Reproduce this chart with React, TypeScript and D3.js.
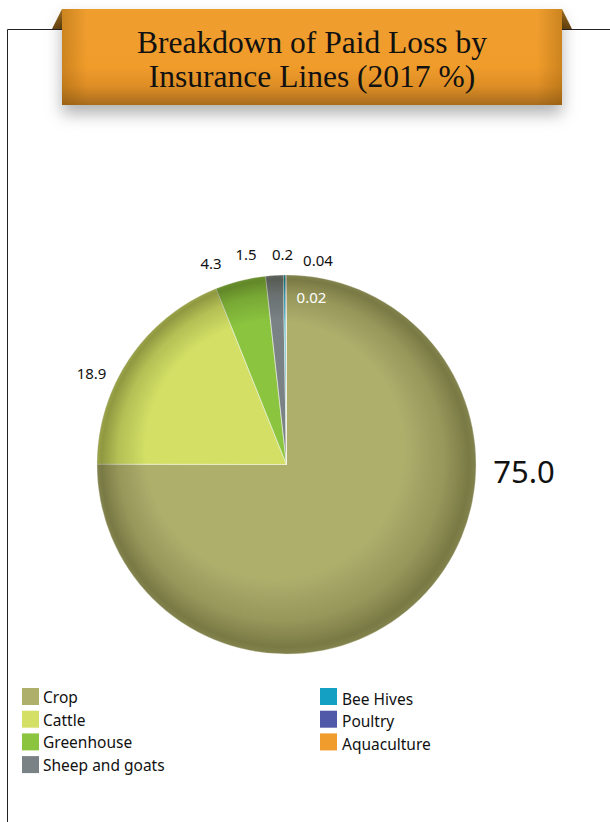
import React from "react";
import * as d3 from "d3";

const categories = ["Crop", "Cattle", "Greenhouse", "Sheep and goats", "Bee Hives", "Poultry", "Aquaculture"];
const values = [75.0, 18.9, 4.3, 1.5, 0.2, 0.04, 0.02];
const labels = ["75.0", "18.9", "4.3", "1.5", "0.2", "0.04", "0.02"];
const colors = ["#AFAF6C", "#D3E065", "#8BC53F", "#7A8285", "#14A0C2", "#5058A8", "#F09C2C"];
const titleLines = ["Breakdown of Paid Loss by", "Insurance Lines (2017 %)"];

// label placement relative to pie centre (layout)
const labelOffsets: [number, number][] = [
  [237.5, 18.5],
  [-195, -85.5],
  [-75.5, -195.5],
  [-40.5, -204.5],
  [-4, -204.5],
  [31.5, -198.5],
  [25, -161.5],
];
const labelSizes = [31, 15, 15, 15, 15, 15, 15];
const labelColors = ["#111", "#111", "#111", "#111", "#111", "#111", "#ffffff"];

const W = 610;
const H = 822;
const cx = 286.5;
const cy = 464.5;
const R = 189.5;

export default function App() {
  const pie = d3
    .pie<number>()
    .sort(null)
    .value((d) => d)
    .startAngle(0)
    .endAngle(2 * Math.PI);
  const arcs = pie(values);
  const arcGen = d3.arc<d3.PieArcDatum<number>>().innerRadius(0).outerRadius(R);

  const legendCol1 = categories.slice(0, 4);
  const legendCol2 = categories.slice(4);
  const rowY = d3.scaleLinear().domain([0, 1]).range([688, 710.7]);

  return (
    <svg
      width={W}
      height={H}
      style={{ position: "absolute", left: 0, top: 0, display: "block", background: "#fff" }}
    >
      <defs>
        <radialGradient id="rim" cx="0.5" cy="0.5" r="0.5" fx="0.4" fy="0.38">
          <stop offset="0" stopColor="#000" stopOpacity="0" />
          <stop offset="0.68" stopColor="#000" stopOpacity="0" />
          <stop offset="0.86" stopColor="#1a1a00" stopOpacity="0.16" />
          <stop offset="0.97" stopColor="#1a1a00" stopOpacity="0.36" />
          <stop offset="1" stopColor="#1a1a00" stopOpacity="0.3" />
        </radialGradient>
        <linearGradient id="bannerV" x1="0" y1="0" x2="0" y2="1">
          <stop offset="0" stopColor="#EF9E2E" />
          <stop offset="0.6" stopColor="#F09C2C" />
          <stop offset="0.8" stopColor="#DE8E26" />
          <stop offset="1" stopColor="#A86C1E" />
        </linearGradient>
        <linearGradient id="bannerH" x1="0" y1="0" x2="1" y2="0">
          <stop offset="0" stopColor="#7a4a00" stopOpacity="0.3" />
          <stop offset="0.05" stopColor="#7a4a00" stopOpacity="0" />
          <stop offset="0.95" stopColor="#7a4a00" stopOpacity="0" />
          <stop offset="1" stopColor="#7a4a00" stopOpacity="0.3" />
        </linearGradient>
        <linearGradient id="tab" x1="0" y1="0" x2="0" y2="1">
          <stop offset="0" stopColor="#A0701E" />
          <stop offset="1" stopColor="#6A4410" />
        </linearGradient>
        <filter id="shadow" x="-10%" y="-30%" width="120%" height="180%">
          <feDropShadow dx="0" dy="9" stdDeviation="8" floodColor="#000" floodOpacity="0.3" />
        </filter>
      </defs>

      {/* frame */}
      <path d={`M7.5,${H + 10} L7.5,29.5 L${W + 10},29.5`} fill="none" stroke="#222" strokeWidth={1} />

      {/* banner */}
      <polygon points="52,29 62,9 62,29" fill="url(#tab)" />
      <polygon points="562,9 572,29 562,29" fill="url(#tab)" />
      <rect x={62} y={9} width={500} height={96} fill="url(#bannerV)" filter="url(#shadow)" />
      <rect x={62} y={9} width={500} height={96} fill="url(#bannerH)" />
      {titleLines.map((t, i) => (
        <text
          key={t}
          x={312}
          y={53 + i * 34}
          textAnchor="middle"
          fontFamily="'Liberation Serif', serif"
          fontSize={31.5}
          fill="#111"
        >
          {t}
        </text>
      ))}

      {/* pie */}
      <g transform={`translate(${cx},${cy})`}>
        {arcs.map((a, i) => (
          <path
            key={categories[i]}
            d={arcGen(a) || ""}
            fill={colors[i]}
            stroke="#f4f4e8"
            strokeWidth={0.7}
            strokeOpacity={0.85}
          />
        ))}
        <circle r={R} fill="url(#rim)" />
        {arcs.map((a, i) => (
          <text
            key={"l" + i}
            x={labelOffsets[i][0]}
            y={labelOffsets[i][1]}
            textAnchor="middle"
            fontFamily="'Noto Sans', 'Open Sans', sans-serif"
            fontSize={labelSizes[i]}
            fill={labelColors[i]}
          >
            {labels[i]}
          </text>
        ))}
      </g>

      {/* legend */}
      {legendCol1.map((c, i) => (
        <g key={c}>
          <rect x={22} y={rowY(i)} width={17} height={17} fill={colors[i]} />
          <text
            x={43}
            y={rowY(i) + 15}
            fontFamily="'Noto Sans', 'Open Sans', sans-serif"
            fontSize={15.5}
            fill="#111"
          >
            {c}
          </text>
        </g>
      ))}
      {legendCol2.map((c, i) => (
        <g key={c}>
          <rect x={320} y={rowY(i)} width={17} height={17} fill={colors[i + 4]} />
          <text
            x={342}
            y={rowY(i) + 16.5}
            fontFamily="'Noto Sans', 'Open Sans', sans-serif"
            fontSize={15.5}
            fill="#111"
          >
            {c}
          </text>
        </g>
      ))}
    </svg>
  );
}
